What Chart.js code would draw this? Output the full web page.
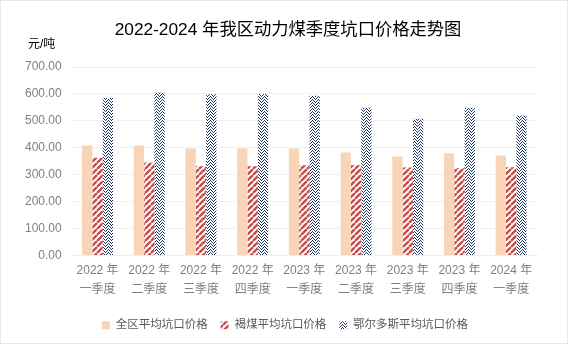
<!DOCTYPE html>
<html>
<head>
<meta charset="utf-8">
<script src="https://cdn.jsdelivr.net/npm/chart.js@4"></script>
<style>
  html, body { margin: 0; padding: 0; background: #fff; }
  #wrap { width: 566px; height: 342px; border: 1px solid #e6e6e6; position: relative; }
</style>
</head>
<body>
<div id="wrap"><canvas id="coal-chart" width="566" height="342"></canvas></div>
<script>
const years = ["2022 年", "2022 年", "2022 年", "2022 年", "2023 年", "2023 年", "2023 年", "2023 年", "2024 年"];
const quarters = ["一季度", "二季度", "三季度", "四季度", "一季度", "二季度", "三季度", "四季度", "一季度"];
const regionAvg = [409, 409, 398, 398, 398, 383, 368, 380, 372];
const ligniteAvg = [363, 346, 332, 332, 335, 335, 327, 324, 328];
const ordosAvg = [585, 605, 599, 600, 593, 549, 508, 549, 520];
const yTicks = [0, 100, 200, 300, 400, 500, 600, 700];

const FONT = "'Liberation Sans', 'Noto Sans CJK SC', sans-serif";

// diagonal red stripes
function stripePattern() {
  const c = document.createElement("canvas");
  c.width = 6; c.height = 6;
  const g = c.getContext("2d");
  g.fillStyle = "#fff";
  g.fillRect(0, 0, 6, 6);
  g.strokeStyle = "#c0504d";
  g.lineWidth = 2.4;
  g.beginPath();
  for (let k = -6; k <= 12; k += 6) {
    g.moveTo(k, 6);
    g.lineTo(k + 6, 0);
  }
  g.stroke();
  return g.createPattern(c, "repeat");
}

// navy zigzag weave
function zigzagPattern() {
  const c = document.createElement("canvas");
  c.width = 6; c.height = 6;
  const g = c.getContext("2d");
  g.fillStyle = "#fff";
  g.fillRect(0, 0, 6, 6);
  g.fillStyle = "#1f3864";
  const pts = [[0,0],[1,1],[2,2],[3,1],[4,0],
               [0,3],[1,4],[2,5],[3,4],[4,3],[5,2],[5,5]];
  pts.forEach(([x, y]) => g.fillRect(x, y, 1, 1));
  return g.createPattern(c, "repeat");
}

// title + unit text drawn by hand so the title can sit where the original has it
const headerText = {
  id: "headerText",
  afterLayout(chart) {
    // the legend in the original is centred on the whole picture, not the plot
    chart.legend.left += 9;
    chart.legend.right += 9;
  },
  afterDraw(chart) {
    const ctx = chart.ctx;
    ctx.save();
    ctx.fillStyle = "#000";
    ctx.textBaseline = "middle";
    ctx.font = "17.3px " + FONT;
    ctx.textAlign = "center";
    ctx.fillText("2022-2024 年我区动力煤季度坑口价格走势图", 287, 29);
    ctx.font = "12px " + FONT;
    ctx.textAlign = "left";
    ctx.fillText("元/吨", 27, 44);
    ctx.restore();
  }
};

const labels = years.map((y, i) => [y, quarters[i]]);

new Chart(document.getElementById("coal-chart").getContext("2d"), {
  type: "bar",
  data: {
    labels: labels,
    datasets: [
      { label: "全区平均坑口价格", data: regionAvg, backgroundColor: "#f9d5b8" },
      { label: "褐煤平均坑口价格", data: ligniteAvg, backgroundColor: stripePattern() },
      { label: "鄂尔多斯平均坑口价格", data: ordosAvg, backgroundColor: zigzagPattern() }
    ]
  },
  options: {
    responsive: false,
    animation: false,
    layout: { padding: { left: 14, right: 30, top: 66, bottom: 2 } },
    datasets: { bar: { categoryPercentage: 0.6, barPercentage: 1 } },
    plugins: {
      title: { display: false },
      legend: {
        position: "bottom",
        labels: {
          boxWidth: 8, boxHeight: 8,
          color: "#595959",
          font: { family: FONT, size: 11.5 },
          padding: 13
        }
      },
      tooltip: { enabled: false }
    },
    scales: {
      x: {
        grid: { display: false, drawTicks: false },
        border: { color: "#eeeeee" },
        ticks: { color: "#808080", font: { family: FONT, size: 12, lineHeight: 1.62 }, maxRotation: 0, autoSkip: false, padding: 5 },
        afterFit: (s) => { s.height += 2; }
      },
      y: {
        min: 0, max: 700,
        afterBuildTicks: (s) => { s.ticks = yTicks.map((v) => ({ value: v })); },
        grid: { color: "#f0f0f0", drawTicks: false },
        border: { display: false },
        ticks: {
          color: "#808080", font: { family: FONT, size: 12 }, padding: 10,
          callback: (v) => Number(v).toFixed(2)
        }
      }
    }
  },
  plugins: [headerText]
});
</script>
</body>
</html>
